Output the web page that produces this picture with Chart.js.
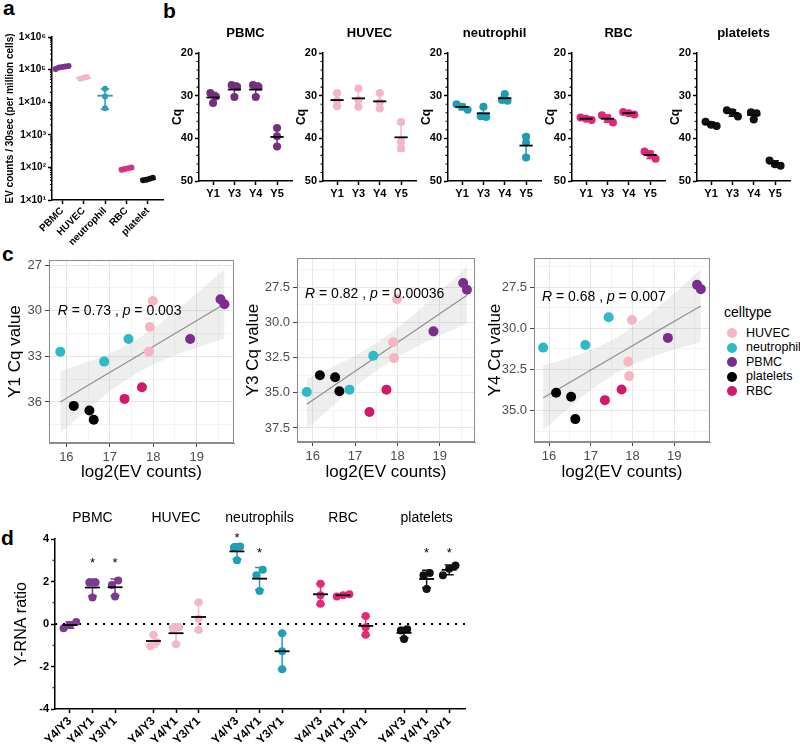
<!DOCTYPE html>
<html>
<head>
<meta charset="utf-8">
<script src="https://cdn.jsdelivr.net/npm/chart.js@4.4.1/dist/chart.umd.min.js"></script>
<style>
body { margin: 0; background: #fff; width: 800px; height: 749px; position: relative; overflow: hidden; font-family: "Liberation Sans", Arial, sans-serif; }
canvas { position: absolute; }
.plab { position: absolute; font-weight: bold; font-size: 21px; line-height: 1; }
.leg { position: absolute; line-height: 1; color: #000; white-space: nowrap; }
.dot { position: absolute; width: 10px; height: 10px; border-radius: 50%; }
</style>
</head>
<body>
<div class="plab" style="left:3px;top:-3px">a</div>
<div class="plab" style="left:163px;top:0px">b</div>
<div class="plab" style="left:2px;top:243px">c</div>
<div class="plab" style="left:1px;top:527px">d</div>
<div id="legend"></div>
<script>
const FONT = "'Liberation Sans', Arial, sans-serif";
Chart.defaults.font.family = FONT;
Chart.defaults.color = '#000';

// ---- a : EV counts per cell type (log scale)
const aCells = ['PBMC', 'HUVEC', 'neutrophil', 'RBC', 'platelet'];
const aColors = ['#7b3294', '#f2b6c6', '#2a9fb3', '#d8307c', '#111111'];
const aPBMC = [105000, 120000, 130000, 115000, 125000];
const aHUVEC = [52000, 56000, 59000];
const aNeutrophil = [26000, 15000, 6500];
const aRBC = [85, 95, 100, 90];
const aPlatelet = [42, 48, 45, 40];
const aTicks = [1e1, 1e2, 1e3, 1e4, 1e5, 1e6];
const aTickLabels = ['1×10¹', '1×10²', '1×10³', '1×10⁴', '1×10⁵', '1×10⁶'];

// ---- b : Cq of Y RNAs per cell type
const bCells = ['PBMC', 'HUVEC', 'neutrophil', 'RBC', 'platelets'];
const bColors = ['#74307c', '#f2b6c6', '#1f9db0', '#e0267a', '#111111'];
const bGenes = ['Y1', 'Y3', 'Y4', 'Y5'];
const bYTicks = [20, 30, 40, 50];
const bPBMC = [[29.4, 30.2, 31.7], [27.5, 27.9, 30.3], [27.5, 27.9, 30.3], [37.6, 39.5, 41.9]];
const bHUVEC = [[29.4, 31.2, 32.5], [28.3, 31.0, 32.6], [29.4, 31.6, 33.0], [36.2, 40.8, 42.3]];
const bNeutrophil = [[32.0, 32.6, 33.3], [32.6, 34.8, 35.0], [29.6, 31.0, 31.2], [39.6, 41.0, 44.5]];
const bRBC = [[35.1, 35.4, 35.7], [34.6, 35.3, 36.3], [33.8, 34.1, 34.4], [43.1, 43.7, 44.8]];
const bPlatelets = [[36.1, 36.8, 37.1], [33.4, 33.9, 34.9], [33.9, 34.1, 35.6], [45.2, 46.1, 46.4]];

// ---- c : Cq vs log2(EV counts)
const cTypes = ['HUVEC', 'neutrophil', 'PBMC', 'platelets', 'RBC'];
const cColors = ['#f4b6c2', '#2bbac6', '#7b2d8e', '#000000', '#d1186b'];
const sampleType = ['neutrophil', 'platelets', 'platelets', 'platelets', 'neutrophil', 'RBC', 'neutrophil', 'RBC', 'HUVEC', 'HUVEC', 'HUVEC', 'PBMC', 'PBMC', 'PBMC'];
const log2EV = [15.86, 16.17, 16.53, 16.63, 16.87, 17.34, 17.43, 17.74, 17.90, 17.92, 17.99, 18.85, 19.55, 19.64];
const y1Cq = [32.7, 36.26, 36.56, 37.17, 33.35, 35.8, 31.86, 35.03, 32.7, 31.07, 29.36, 31.86, 29.25, 29.58];
const y3Cq = [34.95, 33.76, 33.9, 34.9, 34.78, 36.37, 32.37, 34.78, 31.42, 32.54, 28.35, 30.64, 27.2, 27.69];
const y4Cq = [31.17, 33.91, 34.15, 35.51, 31.01, 34.36, 29.33, 33.71, 32.02, 32.9, 29.49, 30.58, 27.36, 27.62];
const fitX = [15.86, 16.3, 16.8, 17.2, 17.6, 18.0, 18.6, 19.1, 19.64];
const y1Fit = [36.0, 35.25, 34.4, 33.72, 33.04, 32.36, 31.34, 30.48, 29.56];
const y1Band = [2.04, 1.69, 1.36, 1.17, 1.11, 1.17, 1.48, 1.85, 2.29];
const y3Fit = [35.82, 34.92, 33.89, 33.07, 32.25, 31.43, 30.2, 29.18, 28.07];
const y3Band = [1.79, 1.49, 1.19, 1.03, 0.97, 1.03, 1.30, 1.62, 2.02];
const y4Fit = [34.22, 33.57, 32.83, 32.24, 31.65, 31.06, 30.17, 29.43, 28.64];
const y4Band = [1.97, 1.64, 1.31, 1.14, 1.07, 1.14, 1.43, 1.78, 2.22];
const corR = ['0.73', '0.82', '0.68'];
const corP = ['0.003', '0.00036', '0.007'];

// ---- d : Y-RNA ratios
const dGroups = ['PBMC', 'HUVEC', 'neutrophils', 'RBC', 'platelets'];
const dColors = ['#7b3b8f', '#f2b8c6', '#1f9fb3', '#e6287a', '#111111'];
const dRatios = ['Y4/Y3', 'Y4/Y1', 'Y3/Y1'];
const dPBMC = [[0.1, -0.05, -0.2], [1.95, 1.95, 1.25], [2.05, 1.84, 1.3]];
const dHUVEC = [[-0.5, -0.85, -1.05], [-0.15, -0.2, -0.95], [1.02, 0.25, -0.28]];
const dNeutrophils = [[3.65, 3.6, 3.0], [2.55, 2.3, 1.55], [-0.44, -1.28, -2.13]];
const dRBC = [[1.9, 1.35, 0.95], [1.3, 1.35, 1.4], [0.38, -0.15, -0.5]];
const dPlatelets = [[-0.25, -0.3, -0.7], [2.4, 2.3, 1.65], [2.75, 2.6, 2.3]];
const starGroup = [0, 0, 2, 2, 4, 4];
const starRatio = [1, 2, 0, 1, 1, 2];
const starY = [3.0, 3.0, 4.2, 3.5, 3.5, 3.5];

// ---------- helpers
function addCanvas(left, top, w, h) {
    const c = document.createElement('canvas');
    c.width = w; c.height = h;
    c.style.left = left + 'px'; c.style.top = top + 'px';
    document.body.appendChild(c);
    return c;
}
function stats(arr) {
    const m = arr.reduce((a, b) => a + b, 0) / arr.length;
    const sd = Math.sqrt(arr.reduce((a, b) => a + (b - m) * (b - m), 0) / (arr.length - 1));
    return { m, sd };
}
// spread overlapping dots sideways like a scatter dot plot
function spread(vals, thr, step) {
    const idx = vals.map((v, i) => i).sort((a, b) => vals[a] - vals[b]);
    const off = new Array(vals.length).fill(0);
    let cl = [idx[0]];
    const flush = () => cl.forEach((k, r) => { off[k] = (r - (cl.length - 1) / 2) * step; });
    for (let n = 1; n < idx.length; n++) {
        if (vals[idx[n]] - vals[idx[n - 1]] < thr) cl.push(idx[n]);
        else { flush(); cl = [idx[n]]; }
    }
    flush();
    return off;
}

const errorBars = {
    id: 'errorBars',
    afterDatasetsDraw(chart, args, o) {
        if (!o || !o.items) return;
        const ctx = chart.ctx, x = chart.scales.x, y = chart.scales.y;
        ctx.save();
        o.items.forEach(it => {
            const cx = x.getPixelForValue(it.x);
            const w = x.getPixelForValue(it.x + o.meanHalf) - cx;
            const c = x.getPixelForValue(it.x + o.capHalf) - cx;
            const pm = y.getPixelForValue(it.mean), pl = y.getPixelForValue(it.lo), ph = y.getPixelForValue(it.hi);
            ctx.strokeStyle = it.color; ctx.lineWidth = o.barWidth;
            ctx.beginPath();
            ctx.moveTo(cx, pl); ctx.lineTo(cx, ph);
            ctx.moveTo(cx - c, pl); ctx.lineTo(cx + c, pl);
            ctx.moveTo(cx - c, ph); ctx.lineTo(cx + c, ph);
            ctx.stroke();
            ctx.strokeStyle = it.meanColor; ctx.lineWidth = o.meanWidth;
            ctx.beginPath(); ctx.moveTo(cx - w, pm); ctx.lineTo(cx + w, pm); ctx.stroke();
        });
        ctx.restore();
    }
};
const minorTicks = {
    id: 'minorTicks',
    afterDraw(chart, args, o) {
        if (!o || !o.values) return;
        const y = chart.scales.y, ctx = chart.ctx, left = chart.chartArea.left;
        ctx.save(); ctx.strokeStyle = '#000'; ctx.lineWidth = 1.1;
        ctx.beginPath();
        o.values.forEach(v => { const py = y.getPixelForValue(v); ctx.moveTo(left, py); ctx.lineTo(left - o.len, py); });
        ctx.stroke(); ctx.restore();
    }
};
const panelBox = {
    id: 'panelBox',
    afterDraw(chart) {
        const { ctx, chartArea: a } = chart;
        ctx.save(); ctx.strokeStyle = '#8c8c8c'; ctx.lineWidth = 1;
        ctx.strokeRect(a.left + 0.5, a.top + 0.5, a.width - 1, a.height - 1);
        ctx.restore();
    }
};
const corLabel = {
    id: 'corLabel',
    afterDatasetsDraw(chart, args, o) {
        if (!o || !o.parts) return;
        const ctx = chart.ctx;
        let px = chart.scales.x.getPixelForValue(o.x);
        const py = chart.scales.y.getPixelForValue(o.y);
        ctx.save(); ctx.fillStyle = '#000'; ctx.textBaseline = 'middle';
        o.parts.forEach(p => {
            ctx.font = (p.i ? 'italic ' : '') + '14px ' + FONT;
            ctx.fillText(p.t, px, py);
            px += ctx.measureText(p.t).width;
        });
        ctx.restore();
    }
};
const gpGrid = { drawOnChartArea: false, drawTicks: true, tickLength: 4, tickWidth: 1.5, tickColor: '#000' };
const gpBorder = { display: true, color: '#000', width: 1.5 };
function baseOpts() {
    return { responsive: false, animation: false, events: [] };
}

// ---------- panel a
(function () {
    const canvas = addCanvas(0, 0, 175, 260);
    const groups = [aPBMC, aHUVEC, aNeutrophil, aRBC, aPlatelet];
    const datasets = [], items = [];
    groups.forEach((g, j) => {
        const off = spread(g.map(v => Math.log10(v)), 0.15, 0.15);
        datasets.push({ data: g.map((v, n) => ({ x: j + off[n], y: v })), showLine: false, pointRadius: 3, pointHoverRadius: 3, backgroundColor: aColors[j], borderWidth: 0 });
        const s = stats(g);
        items.push({ x: j, mean: s.m, lo: s.m - s.sd, hi: s.m + s.sd, color: aColors[j], meanColor: aColors[j] });
    });
    const logMinor = [];
    aTicks.slice(0, -1).forEach(d => { for (let m = 2; m <= 9; m++) logMinor.push(d * m); });
    new Chart(canvas, {
        type: 'line',
        data: { datasets },
        options: Object.assign(baseOpts(), {
            layout: { padding: { top: 37, right: 12, left: 0, bottom: 0 } },
            plugins: {
                legend: { display: false }, tooltip: { enabled: false },
                errorBars: { items, meanHalf: 0.36, capHalf: 0.2, barWidth: 1.5, meanWidth: 1.8 },
                minorTicks: { values: logMinor, len: 2 }
            },
            scales: {
                x: {
                    type: 'linear', min: -0.47, max: 4.7,
                    afterBuildTicks: s => { s.ticks = aCells.map((c, i) => ({ value: i })); },
                    ticks: { callback: (v, i) => aCells[i], font: { size: 10, weight: 'bold' }, color: '#000', minRotation: 45, maxRotation: 45, autoSkip: false, padding: 1 },
                    grid: gpGrid, border: gpBorder,
                    afterFit: s => { s.height = 60; }
                },
                y: {
                    type: 'logarithmic', min: 10, max: 1e6,
                    afterBuildTicks: s => { s.ticks = aTicks.map(v => ({ value: v })); },
                    ticks: { callback: (v, i) => aTickLabels[i], font: { size: 10, weight: 'bold' }, color: '#000', padding: 2 },
                    grid: gpGrid, border: gpBorder,
                    title: { display: true, text: 'EV counts / 30sec (per million cells)', font: { size: 10, weight: 'bold' }, padding: { top: 4, bottom: 0 } },
                    afterFit: s => { s.width = 52; }
                }
            }
        }),
        plugins: [errorBars, minorTicks]
    });
})();

// ---------- panel b
const bAxisLeft = [199, 323, 448, 572, 697];
[bPBMC, bHUVEC, bNeutrophil, bRBC, bPlatelets].forEach((vals, k) => {
    const canvas = addCanvas(bAxisLeft[k] - 30, 0, 131, 205);
    const pts = [], items = [];
    vals.forEach((g, j) => {
        const off = spread(g, 1.1, 0.26);
        g.forEach((v, n) => pts.push({ x: j + off[n], y: v }));
        const s = stats(g);
        items.push({ x: j, mean: s.m, lo: s.m - s.sd, hi: s.m + s.sd, color: bColors[k], meanColor: '#000' });
    });
    new Chart(canvas, {
        type: 'line',
        data: { datasets: [{ data: pts, showLine: false, pointRadius: 4, pointHoverRadius: 4, backgroundColor: bColors[k], borderWidth: 0 }] },
        options: Object.assign(baseOpts(), {
            layout: { padding: { top: 0, right: 8, left: 0, bottom: 0 } },
            plugins: {
                legend: { display: false }, tooltip: { enabled: false },
                title: { display: true, fullSize: false, text: bCells[k], color: '#000', font: { size: 13, weight: 'bold' }, padding: { top: 26, bottom: 11.4 } },
                errorBars: { items, meanHalf: 0.31, capHalf: 0.18, barWidth: 1.5, meanWidth: 1.8 },
                minorTicks: { values: [22, 24, 26, 28, 32, 34, 36, 38, 42, 44, 46, 48], len: 2.5 }
            },
            scales: {
                x: {
                    type: 'linear', min: -0.66, max: 3.7,
                    afterBuildTicks: s => { s.ticks = bGenes.map((g, i) => ({ value: i })); },
                    ticks: { callback: (v, i) => bGenes[i], font: { size: 11, weight: 'bold' }, color: '#000', padding: 2, maxRotation: 0, autoSkip: false },
                    grid: gpGrid, border: gpBorder,
                    afterFit: s => { s.height = 24; }
                },
                y: {
                    type: 'linear', reverse: true, min: 20, max: 50,
                    afterBuildTicks: s => { s.ticks = bYTicks.map(v => ({ value: v })); },
                    ticks: { font: { size: 11, weight: 'bold' }, color: '#000', padding: 2 },
                    grid: gpGrid, border: gpBorder,
                    title: { display: true, text: 'Cq', font: { size: 12, weight: 'bold' }, padding: { top: 1, bottom: 0 } },
                    afterFit: s => { s.width = 30; }
                }
            }
        }),
        plugins: [errorBars, minorTicks]
    });
});

// ---------- panel c
const cPlots = [
    { left: 0, w: 240, yw: 49, padTop: 30, padRight: 6, xh: 42, xMin: 15.6, xMax: 19.86, yMin: 26.67, yMax: 38.7, tPad: 4.8, y: y1Cq, fit: y1Fit, band: y1Band, title: 'Y1 Cq value', major: [27, 30, 33, 36], dec: 0, lab: [15.8, 30.0] },
    { left: 240, w: 241, yw: 57, padTop: 28, padRight: 6, xh: 43, xMin: 15.63, xMax: 19.83, yMin: 25.43, yMax: 38.5, tPad: 3, y: y3Cq, fit: y3Fit, band: y3Band, title: 'Y3 Cq value', major: [27.5, 30, 32.5, 35, 37.5], dec: 1, lab: [15.82, 28.0] },
    { left: 484, w: 231, yw: 50, padTop: 28, padRight: 4, xh: 43, xMin: 15.64, xMax: 19.86, yMin: 25.73, yMax: 36.9, tPad: 1, y: y4Cq, fit: y4Fit, band: y4Band, title: 'Y4 Cq value', major: [27.5, 30, 32.5, 35], dec: 1, lab: [15.83, 28.1] }
];
const cXMajor = [16, 17, 18, 19];
cPlots.forEach((p, k) => {
    const canvas = addCanvas(p.left, 230, p.w, 255);
    const datasets = [];
    cTypes.forEach((t, j) => {
        const pts = [];
        sampleType.forEach((s, i) => { if (s === t) pts.push({ x: log2EV[i], y: p.y[i] }); });
        datasets.push({ data: pts, showLine: false, pointRadius: 5, pointHoverRadius: 5, backgroundColor: cColors[j], borderWidth: 0, order: 0 });
    });
    datasets.push({ data: fitX.map((x, i) => ({ x, y: p.fit[i] - p.band[i] })), borderColor: 'transparent', pointRadius: 0, fill: false, order: 3 });
    datasets.push({ data: fitX.map((x, i) => ({ x, y: p.fit[i] + p.band[i] })), borderColor: 'transparent', pointRadius: 0, fill: '-1', backgroundColor: 'rgba(150,150,150,0.16)', order: 2 });
    datasets.push({ data: fitX.map((x, i) => ({ x, y: p.fit[i] })), borderColor: '#8f8f8f', borderWidth: 1.2, pointRadius: 0, fill: false, order: 1 });

    const step = p.major[1] - p.major[0];
    const yTicks = [];
    p.major.forEach(v => { yTicks.push(v - step / 2); yTicks.push(v); });
    yTicks.push(p.major[p.major.length - 1] + step / 2);
    const xTicks = [];
    cXMajor.forEach(v => { xTicks.push(v); xTicks.push(v + 0.5); });
    const isMajY = v => p.major.includes(v);
    const isMajX = v => cXMajor.includes(v);

    new Chart(canvas, {
        type: 'line',
        data: { datasets },
        options: Object.assign(baseOpts(), {
            layout: { padding: { top: p.padTop, right: p.padRight, left: 0, bottom: 0 } },
            plugins: {
                legend: { display: false }, tooltip: { enabled: false },
                corLabel: { x: p.lab[0], y: p.lab[1], parts: [{ t: 'R', i: true }, { t: ' = ' + corR[k] + ' , ' }, { t: 'p', i: true }, { t: ' = ' + corP[k] }] }
            },
            scales: {
                x: {
                    type: 'linear', min: p.xMin, max: p.xMax,
                    afterBuildTicks: s => { s.ticks = xTicks.filter(v => v > p.xMin && v < p.xMax).map(v => ({ value: v })); },
                    ticks: { callback: v => isMajX(v) ? String(v) : '', color: '#4d4d4d', font: { size: 13 }, padding: 3, maxRotation: 0, autoSkip: false },
                    grid: {
                        drawOnChartArea: true, drawTicks: true, tickLength: 4,
                        color: c => c.tick && isMajX(c.tick.value) ? '#e6e6e6' : '#f3f3f3',
                        tickColor: c => c.tick && isMajX(c.tick.value) ? '#444' : 'rgba(0,0,0,0)'
                    },
                    border: { display: true, color: '#8c8c8c', width: 1 },
                    title: { display: true, text: 'log2(EV counts)', color: '#000', font: { size: 17 }, padding: { top: 0, bottom: 2.8 } },
                    afterFit: s => { s.height = p.xh; }
                },
                y: {
                    type: 'linear', reverse: true, min: p.yMin, max: p.yMax,
                    afterBuildTicks: s => { s.ticks = yTicks.filter(v => v > p.yMin && v < p.yMax).map(v => ({ value: v })); },
                    ticks: { callback: v => isMajY(v) ? v.toFixed(p.dec) : '', color: '#4d4d4d', font: { size: 13 }, padding: 3, autoSkip: false },
                    grid: {
                        drawOnChartArea: true, drawTicks: true, tickLength: 4,
                        color: c => c.tick && isMajY(c.tick.value) ? '#e6e6e6' : '#f3f3f3',
                        tickColor: c => c.tick && isMajY(c.tick.value) ? '#444' : 'rgba(0,0,0,0)'
                    },
                    border: { display: true, color: '#8c8c8c', width: 1 },
                    title: { display: true, text: p.title, color: '#000', font: { size: 17 }, padding: { top: p.tPad, bottom: 0 } },
                    afterFit: s => { s.width = p.yw; }
                }
            }
        }),
        plugins: [corLabel, panelBox]
    });
});

// legend for c
(function () {
    const box = document.getElementById('legend');
    let html = '<div class="leg" style="left:724px;top:305px;font-size:14px">celltype</div>';
    cTypes.forEach((t, j) => {
        const cy = 333 + j * 14.6;
        html += '<div class="dot" style="left:727px;top:' + (cy - 5) + 'px;background:' + cColors[j] + '"></div>';
        html += '<div class="leg" style="left:746px;top:' + (cy - 6.5) + 'px;font-size:12.5px">' + t + '</div>';
    });
    box.innerHTML = html;
})();

// ---------- panel d
(function () {
    const canvas = addCanvas(0, 500, 480, 249);
    const gap = 3.7;
    const xMin = -0.66, xMax = 17.5;
    const datasets = [], items = [], tickPos = [], tickLab = [];
    [dPBMC, dHUVEC, dNeutrophils, dRBC, dPlatelets].forEach((grp, g) => {
        const pts = [];
        grp.forEach((vals, i) => {
            const xc = g * gap + i;
            tickPos.push(xc); tickLab.push(dRatios[i]);
            const off = spread(vals, 0.35, 0.28);
            vals.forEach((v, n) => pts.push({ x: xc + off[n], y: v }));
            const s = stats(vals);
            items.push({ x: xc, mean: s.m, lo: s.m - s.sd, hi: s.m + s.sd, color: dColors[g], meanColor: '#000' });
        });
        datasets.push({ data: pts, showLine: false, pointRadius: 4, pointHoverRadius: 4, backgroundColor: dColors[g], borderWidth: 0, order: 0 });
    });
    datasets.push({ data: [{ x: xMin, y: 0 }, { x: xMax, y: 0 }], borderColor: '#000', borderWidth: 2.2, borderDash: [2.2, 5.8], pointRadius: 0, fill: false, order: 5 });

    const dLabels = {
        id: 'dLabels',
        afterDatasetsDraw(chart) {
            const ctx = chart.ctx, x = chart.scales.x, y = chart.scales.y;
            ctx.save();
            ctx.fillStyle = '#000'; ctx.textAlign = 'center';
            ctx.font = '14px ' + FONT; ctx.textBaseline = 'middle';
            dGroups.forEach((t, g) => ctx.fillText(t, x.getPixelForValue(g * gap + 1), chart.chartArea.top - 21));
            ctx.font = '13px ' + FONT; ctx.textBaseline = 'alphabetic';
            starY.forEach((v, i) => ctx.fillText('*', x.getPixelForValue(starGroup[i] * gap + starRatio[i]), y.getPixelForValue(v) + 7));
            ctx.restore();
        }
    };

    new Chart(canvas, {
        type: 'line',
        data: { datasets },
        options: Object.assign(baseOpts(), {
            layout: { padding: { top: 39, right: 15, left: 0, bottom: 0 } },
            plugins: {
                legend: { display: false }, tooltip: { enabled: false },
                errorBars: { items, meanHalf: 0.33, capHalf: 0.2, barWidth: 1.5, meanWidth: 1.8 },
                minorTicks: { values: [-3, -1, 1, 3], len: 2.5 }
            },
            scales: {
                x: {
                    type: 'linear', min: xMin, max: xMax,
                    afterBuildTicks: s => { s.ticks = tickPos.map(v => ({ value: v })); },
                    ticks: { callback: (v, i) => tickLab[i], font: { size: 12, weight: 'bold' }, color: '#000', minRotation: 45, maxRotation: 45, autoSkip: false, padding: 1 },
                    grid: gpGrid, border: gpBorder,
                    afterFit: s => { s.height = 40; }
                },
                y: {
                    type: 'linear', min: -4, max: 4,
                    afterBuildTicks: s => { s.ticks = [-4, -2, 0, 2, 4].map(v => ({ value: v })); },
                    ticks: { font: { size: 11, weight: 'bold' }, color: '#000', padding: 2 },
                    grid: gpGrid, border: gpBorder,
                    title: { display: true, text: 'Y-RNA ratio', font: { size: 16 }, padding: { top: 12, bottom: 0 } },
                    afterFit: s => { s.width = 55; }
                }
            }
        }),
        plugins: [errorBars, minorTicks, dLabels]
    });
})();
</script>
</body>
</html>
